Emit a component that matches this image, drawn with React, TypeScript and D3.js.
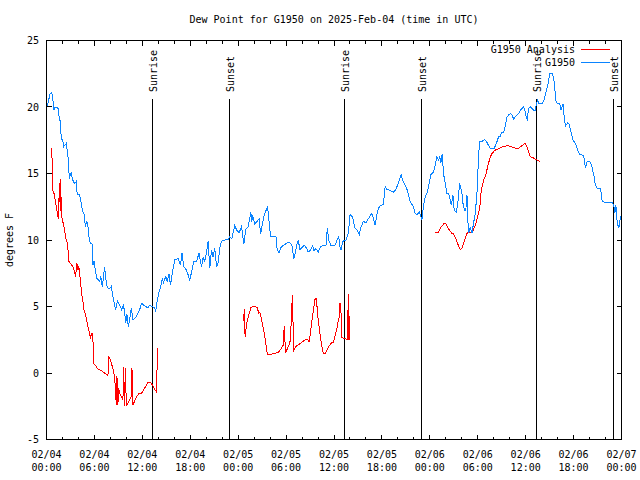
import React from "react";
import * as d3 from "d3";

// hours since 2025-02-04 00:00 UTC, dew point (°F)
const g1950: [number, number][] = [
  [0,20.0],[0.16,20.25],[0.46,21.0],[0.66,21.1],[0.79,20.6],[0.92,19.75],[1.09,20.0],[1.42,20.0],[1.54,19.4],[1.76,18.8],[1.84,17.6],[2.04,17.5],[2.13,17.0],[2.47,17.25],[2.60,16.75],[2.76,15.9],[2.85,14.6],[3.10,15.1],[3.22,14.6],[3.51,14.25],[3.73,14.4],[3.85,13.4],[4.14,13.4],[4.35,12.75],[4.55,12.1],[4.77,11.9],[4.85,11.0],[5.06,11.4],[5.19,11.0],[5.31,10.25],[5.48,9.75],[5.73,9.7],[5.81,8.1],[5.95,8.4],[6.15,7.6],[6.31,7.1],[6.65,6.9],[6.8,7.25],[6.99,6.5],[7.28,7.95],[7.49,6.8],[7.61,6.4],[7.90,6.35],[8.1,6.5],[8.32,5.75],[8.66,4.75],[8.87,5.4],[9.16,5.1],[9.41,4.75],[9.61,5.1],[9.78,4.65],[9.91,3.75],[10.07,4.4],[10.25,3.5],[10.41,4.0],[10.62,4.9],[10.83,4.0],[11.25,4.25],[11.67,4.75],[11.88,5.25],[12.29,5.05],[12.71,4.9],[12.92,5.1],[13.33,4.95],[13.55,4.95],[13.67,4.6],[13.84,5.35],[14.05,6.0],[14.26,6.4],[14.51,7.1],[14.65,6.8],[14.93,7.25],[15.1,6.9],[15.34,7.4],[15.52,6.6],[15.77,7.6],[16.06,8.5],[16.47,8.6],[16.77,8.1],[16.97,9.0],[17.19,8.0],[17.52,7.75],[17.72,7.4],[17.94,7.0],[18.23,7.75],[18.44,8.4],[18.78,8.4],[19.10,9.0],[19.41,8.0],[19.61,8.7],[19.8,8.4],[20.03,9.0],[20.23,9.9],[20.45,7.9],[20.66,9.25],[20.85,8.75],[21.07,9.4],[21.29,8.0],[21.5,8.3],[21.70,9.4],[21.91,9.9],[22.33,10.0],[22.74,10.05],[22.96,10.25],[23.2,10.1],[23.58,11.1],[23.8,10.75],[24.12,10.55],[24.42,11.0],[24.71,9.7],[24.96,10.8],[25.25,11.0],[25.59,12.1],[25.7,11.35],[25.80,11.9],[26.09,11.2],[26.63,11.6],[26.81,10.45],[27.06,11.3],[27.22,11.75],[27.47,12.2],[27.69,12.5],[27.89,11.25],[28.06,10.25],[28.73,10.25],[28.89,9.25],[29.14,9.05],[29.3,9.4],[29.57,9.55],[30.07,9.75],[30.39,9.85],[30.73,9.6],[30.98,8.6],[31.1,8.85],[31.32,9.6],[31.52,10.0],[31.74,9.25],[32.07,9.5],[32.3,9.6],[32.58,9.35],[32.78,9.1],[33.0,9.2],[33.33,9.55],[33.5,9.2],[33.74,9.35],[34.03,9.1],[34.33,9.5],[34.66,9.6],[35.0,9.6],[35.16,10.9],[35.34,10.0],[35.59,9.6],[36.13,9.6],[36.42,10.05],[36.59,10.25],[36.75,9.5],[36.88,9.25],[37.1,9.9],[37.51,10.0],[37.80,10.5],[38.01,11.9],[38.3,11.75],[38.64,10.9],[38.92,10.75],[39.17,10.4],[39.35,10.9],[39.68,11.4],[40.0,11.3],[40.30,11.6],[40.73,12.0],[40.95,11.6],[41.14,11.1],[41.36,11.85],[41.56,12.4],[41.86,12.6],[42.19,12.7],[42.40,14.0],[42.6,13.8],[42.94,13.75],[43.44,13.6],[43.7,13.75],[43.94,14.1],[44.19,14.5],[44.41,14.9],[44.69,14.35],[45.12,13.85],[45.32,13.4],[45.53,12.9],[45.95,12.5],[46.16,12.0],[46.37,11.9],[46.7,12.1],[47.00,11.5],[47.20,12.5],[47.42,13.25],[47.63,13.5],[47.83,14.0],[48.13,14.9],[48.46,15.1],[48.67,15.6],[48.88,16.25],[49.08,16.0],[49.25,16.25],[49.39,15.8],[49.55,16.45],[49.71,15.0],[49.93,14.25],[50.14,13.5],[50.34,13.5],[50.55,13.0],[50.7,12.6],[50.89,13.4],[51.05,12.25],[51.30,12.1],[51.5,12.7],[51.72,14.25],[51.89,13.9],[52.02,13.5],[52.15,12.75],[52.35,12.25],[52.5,12.2],[52.65,13.4],[52.72,12.0],[52.85,10.5],[53.06,11.0],[53.27,10.5],[53.47,11.25],[53.69,12.0],[53.90,13.5],[54.10,16.25],[54.23,17.4],[54.5,17.4],[54.82,17.55],[55.1,17.4],[55.36,17.1],[55.57,16.9],[56.07,16.9],[56.32,17.25],[56.61,17.75],[56.8,17.8],[57.04,18.1],[57.25,18.1],[57.45,18.6],[57.66,19.25],[57.87,19.4],[58.08,19.5],[58.3,19.4],[58.49,19.1],[58.7,19.25],[58.92,19.4],[59.12,19.5],[59.33,19.75],[59.75,20.0],[59.9,19.75],[60.08,19.25],[60.2,19.1],[60.37,19.9],[60.59,20.0],[60.8,19.9],[61.00,19.75],[61.21,19.75],[61.34,20.25],[61.50,20.5],[61.68,20.25],[61.84,20.3],[62.1,20.25],[62.34,20.6],[62.59,21.25],[62.76,21.6],[63.01,22.5],[63.31,22.55],[63.51,22.2],[63.63,21.5],[63.81,20.4],[64.01,20.25],[64.25,20.3],[64.44,19.75],[64.69,20.25],[64.85,19.0],[65.02,18.6],[65.27,18.8],[65.45,18.7],[65.69,18.1],[65.94,17.5],[66.23,17.25],[66.52,16.75],[66.77,16.4],[67.0,16.4],[67.27,16.3],[67.49,15.4],[67.70,15.9],[68.03,15.9],[68.25,15.6],[68.53,14.9],[68.74,14.1],[68.95,13.9],[69.37,13.9],[69.58,12.9],[70.0,12.8],[70.83,12.8],[71.04,12.6],[71.17,12.0],[71.3,12.6],[71.47,11.25],[71.67,10.9],[71.88,11.75],[72.0,11.85]
];

const analysisSeg1: [number, number][] = [
  [0.59,16.9],[0.66,16.9],[0.72,15.4],[0.79,13.75],[1.00,13.4],[1.09,13.0],[1.22,12.5],[1.34,12.1],[1.47,11.6],[1.54,12.7],[1.63,14.25],[1.72,12.2],[1.76,14.6],[1.84,12.7],[1.88,11.8],[2.04,11.4],[2.26,10.75],[2.38,10.25],[2.60,9.75],[2.70,9.2],[2.80,8.4],[3.10,8.15],[3.30,8.0],[3.51,7.6],[3.64,7.25],[3.80,8.25],[3.93,7.75],[4.05,8.0],[4.23,7.0],[4.39,6.0],[4.55,5.5],[4.68,4.75],[4.89,4.4],[5.02,4.0],[5.18,3.5],[5.39,3.0],[5.52,2.6],[5.64,3.0],[5.81,3.0],[5.86,0.75],[6.11,0.6],[6.31,0.4],[6.56,0.25],[6.86,0.2],[7.15,0.05],[7.49,-0.1],[7.69,-0.2],[7.81,1.25],[7.97,1.0],[8.24,0.5],[8.40,0.1],[8.53,-0.3],[8.66,-1.5],[8.74,-2.4],[8.82,-0.25],[8.94,-2.4],[9.03,-1.1],[9.16,-1.5],[9.37,-1.75],[9.57,-2.0],[9.66,0.45],[9.78,-2.5],[9.87,0.4],[10.00,-2.5],[10.20,-2.25],[10.41,-2.0],[10.62,-1.75],[10.70,0.4],[10.83,-2.4],[11.04,-2.1],[11.33,-1.75],[11.58,-1.55],[11.88,-1.55],[12.17,-1.25],[12.42,-1.0],[12.71,-0.7],[13.01,-0.7],[13.26,-0.9],[13.55,-1.25],[13.76,-1.4],[13.84,0.25],[13.96,1.9]
];
const analysisSeg2: [number, number][] = [
  [24.62,4.35],[24.71,3.9],[24.75,4.8],[24.87,2.7],[24.96,3.25],[25.13,3.9],[25.34,4.4],[25.59,4.9],[25.80,5.0],[26.09,5.0],[26.38,4.9],[26.59,4.5],[26.72,4.55],[26.84,4.25],[27.01,3.75],[27.22,3.1],[27.38,2.6],[27.56,1.75],[27.69,1.4],[28.10,1.4],[28.31,1.45],[28.73,1.5],[29.01,1.55],[29.23,1.7],[29.44,1.9],[29.64,2.1],[29.77,3.55],[29.85,2.5],[29.94,1.5],[30.11,1.75],[30.27,2.0],[30.48,2.25],[30.70,4.25],[30.77,5.9],[30.86,4.0],[30.95,1.7],[31.23,2.0],[31.52,2.1],[31.82,2.25],[32.15,2.4],[32.45,2.5],[32.70,2.55],[32.87,2.35],[32.99,2.75],[33.20,3.75],[33.40,4.6],[33.62,5.55],[33.83,5.6],[33.91,4.5],[34.08,3.75],[34.28,2.75],[34.46,2.15],[34.58,1.6],[34.75,1.45],[34.96,1.5],[35.16,1.75],[35.41,2.05],[35.66,2.25],[35.91,2.3],[36.13,2.8],[36.34,3.25],[36.54,4.0],[36.67,4.2],[36.75,5.25],[36.84,4.9],[36.92,4.1],[36.97,2.7],[37.26,2.6],[37.51,2.55],[37.67,2.55],[37.80,5.95],[37.84,2.55],[37.92,2.55],[37.94,4.3]
];
const analysisSeg3: [number, number][] = [
  [48.67,10.55],[49.08,10.6],[49.39,10.95],[49.80,11.25],[50.05,11.2],[50.34,10.85],[50.77,10.5],[50.97,10.45],[51.18,10.2],[51.39,9.9],[51.59,9.55],[51.81,9.3],[52.02,9.35],[52.22,9.75],[52.43,10.1],[52.65,10.5],[52.85,10.6],[53.06,10.6],[53.27,10.55],[53.47,10.8],[53.69,11.1],[53.90,11.55],[54.10,12.0],[54.31,12.75],[54.44,13.75],[54.60,14.1],[54.73,14.55],[54.94,14.75],[55.06,15.0],[55.23,15.5],[55.41,15.9],[55.57,16.25],[55.78,16.5],[56.07,16.7],[56.32,16.8],[56.61,16.85],[57.04,17.0],[57.45,17.05],[57.74,17.1],[57.99,17.05],[58.29,17.0],[58.71,16.9],[59.00,16.85],[59.33,17.0],[59.75,17.2],[59.96,17.25],[60.17,17.0],[60.37,16.6],[60.59,16.25],[60.93,16.2],[61.21,16.05],[61.50,16.0],[61.84,15.9]
];

const sunrise: number[] = [13.25, 37.3, 61.38];
const sunset: number[] = [22.9, 46.98, 70.97];

const xTickHours: number[] = [0, 6, 12, 18, 24, 30, 36, 42, 48, 54, 60, 66, 72];
const xTickDates: string[] = ["02/04", "02/04", "02/04", "02/04", "02/05", "02/05", "02/05", "02/05", "02/06", "02/06", "02/06", "02/06", "02/07"];
const xTickTimes: string[] = ["00:00", "06:00", "12:00", "18:00", "00:00", "06:00", "12:00", "18:00", "00:00", "06:00", "12:00", "18:00", "00:00"];
const yTicks: number[] = [-5, 0, 5, 10, 15, 20, 25];

const title = "Dew Point for G1950 on 2025-Feb-04 (time in UTC)";
const yLabel = "degrees F";
const seriesNames = ["G1950 Analysis", "G1950"];
const RED = "#ff0000";
const BLUE = "#0a84ff";

export default function App() {
  const left = 46.5, right = 621.5, top = 40.5, bottom = 439.5;
  const x = d3.scaleLinear().domain([0, 72]).range([left, right]);
  const y = d3.scaleLinear().domain([-5, 25]).range([bottom, top]);
  const snap = (v: number) => Math.round(v - 0.5) + 0.5;
  const line = d3.line<[number, number]>().x((d) => x(d[0])).y((d) => y(d[1]));

  const minor = d3.range(0, 73, 2);
  const font = "'DejaVu Sans Mono', monospace";

  return (
    <svg width={640} height={480} style={{ position: "absolute", left: 0, top: 0, background: "#fff" }}
      fontFamily={font} fontSize={10}>
      <rect x={0} y={0} width={640} height={480} fill="#fff" />
      {/* title */}
      <text x={(left + right) / 2} y={23} textAnchor="middle" fill="#000">{title}</text>
      {/* y label */}
      <text transform={`translate(13,${(top + bottom) / 2}) rotate(-90)`} textAnchor="middle" fill="#000">{yLabel}</text>

      {/* ticks */}
      <g stroke="#000" strokeWidth={1} shapeRendering="crispEdges">
        {minor.map((h) => {
          const len = h % 6 === 0 ? 5 : 3;
          const xx = snap(x(h));
          return (
            <g key={"xt" + h}>
              <line x1={xx} x2={xx} y1={bottom} y2={bottom - len} />
              <line x1={xx} x2={xx} y1={top} y2={top + len} />
            </g>
          );
        })}
        {yTicks.map((v) => {
          const yy = snap(y(v));
          return (
            <g key={"yt" + v}>
              <line x1={left} x2={left + 5} y1={yy} y2={yy} />
              <line x1={right} x2={right - 5} y1={yy} y2={yy} />
            </g>
          );
        })}
      </g>

      {/* y tick labels */}
      {yTicks.map((v) => (
        <text key={"yl" + v} x={39} y={y(v) + 3.6} textAnchor="end" fill="#000">{String(v)}</text>
      ))}
      {/* x tick labels */}
      {xTickHours.map((h, i) => (
        <g key={"xl" + h}>
          <text x={x(h)} y={458} textAnchor="middle" fill="#000">{xTickDates[i]}</text>
          <text x={x(h)} y={471} textAnchor="middle" fill="#000">{xTickTimes[i]}</text>
        </g>
      ))}

      {/* sunrise / sunset */}
      {[...sunrise.map((h) => ({ h, label: "Sunrise" })), ...sunset.map((h) => ({ h, label: "Sunset" }))].map((s) => {
        const xx = snap(x(s.h));
        return (
          <g key={s.label + s.h}>
            <line x1={xx} x2={xx} y1={99} y2={bottom} stroke="#000" strokeWidth={1} shapeRendering="crispEdges" />
            <text transform={`translate(${xx + 4.5},92) rotate(-90)`} textAnchor="start" fill="#000">{s.label}</text>
          </g>
        );
      })}

      {/* data */}
      <g fill="none" strokeWidth={1} shapeRendering="crispEdges">
        {[analysisSeg1, analysisSeg2, analysisSeg3].map((seg, i) => (
          <path key={"r" + i} d={line(seg) || ""} stroke={RED} />
        ))}
        <path d={line(g1950) || ""} stroke={BLUE} />
      </g>

      {/* legend */}
      <text x={575} y={53} textAnchor="end" fill="#000">{seriesNames[0]}</text>
      <line x1={581} x2={610} y1={49.5} y2={49.5} stroke={RED} strokeWidth={1} shapeRendering="crispEdges" />
      <text x={575} y={65.5} textAnchor="end" fill="#000">{seriesNames[1]}</text>
      <line x1={581} x2={610} y1={62.5} y2={62.5} stroke={BLUE} strokeWidth={1} shapeRendering="crispEdges" />

      {/* frame */}
      <rect x={left} y={top} width={right - left} height={bottom - top} fill="none" stroke="#000" strokeWidth={1} shapeRendering="crispEdges" />
    </svg>
  );
}
